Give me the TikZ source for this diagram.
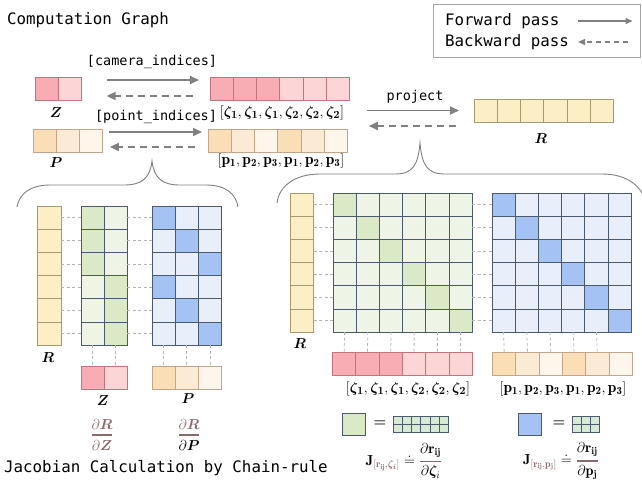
\documentclass[tikz,border=0pt]{standalone}
\usepackage{amsmath,amssymb,bm}
\usepackage{fontspec}
\setmonofont{DejaVu Sans Mono}
\usetikzlibrary{arrows.meta}

\definecolor{zdark}{HTML}{F8ADB5}
\definecolor{zlight}{HTML}{FCD5D6}
\definecolor{zedge}{HTML}{C4737C}
\definecolor{pone}{HTML}{F9DEB6}
\definecolor{ptwo}{HTML}{FCEBD4}
\definecolor{pthree}{HTML}{FEF6EA}
\definecolor{pedge}{HTML}{C3A68A}
\definecolor{rfill}{HTML}{FCEFC6}
\definecolor{redge}{HTML}{A8996E}
\definecolor{gdark}{HTML}{DAEAC6}
\definecolor{glight}{HTML}{EFF5E6}
\definecolor{bdark}{HTML}{A4C2F4}
\definecolor{blight}{HTML}{E8EEFA}
\definecolor{medge}{HTML}{4A5A6E}
\definecolor{minigrid}{HTML}{D7E8D3}
\definecolor{arrowgray}{HTML}{808080}
\definecolor{guide}{HTML}{B5B5B5}
\definecolor{legendgray}{HTML}{A6A6A6}
\definecolor{mauve}{HTML}{8A6B6B}

\newcommand{\pv}[1]{\mathbf{p}_{\mathbf{#1}}}
\newcommand{\zv}[1]{\bm{\zeta_{#1}}}

\tikzset{
  cell/.style={draw, line width=0.9pt, minimum width=23.3pt, minimum height=23.2pt,
    inner sep=0pt, outer sep=0pt},
  vcell/.style={cell, minimum height=23pt},
  zcell/.style={vcell, draw=zedge},
  pcell/.style={vcell, draw=pedge},
  rcell/.style={cell, draw=redge, fill=rfill},
  mcell/.style={cell, draw=medge},
  minicell/.style={draw=medge, fill=minigrid, line width=0.6pt, minimum width=9.2pt,
    minimum height=8pt, inner sep=0pt, outer sep=0pt},
  fwd/.style={draw=arrowgray, line width=1.8pt, -{Triangle[length=9pt,width=8pt]}},
  bwd/.style={fwd, dash pattern=on 7pt off 5pt},
  legfwd/.style={draw=arrowgray, line width=1.2pt, -{Triangle[length=7pt,width=6pt]}},
  legbwd/.style={legfwd, dash pattern=on 5pt off 4pt},
  guideline/.style={draw=guide, line width=0.8pt, dash pattern=on 3pt off 2.5pt},
  bracket/.style={draw=arrowgray, line width=0.9pt},
  bigmono/.style={font=\fontsize{15.8}{19}\ttfamily, inner sep=0pt},
  monolabel/.style={font=\fontsize{13.5}{16}\ttfamily, inner sep=0pt},
  mathlabel/.style={font=\fontsize{13.5}{16}\selectfont, inner sep=0pt},
  listlabel/.style={font=\fontsize{15.5}{18}\selectfont, inner sep=0pt},
  jaclabel/.style={font=\fontsize{14.5}{17}\selectfont, inner sep=0pt},
}

\begin{document}
\begin{tikzpicture}[x=1pt, y=-1pt]
\useasboundingbox (0,0) rectangle (642,485);

% titles
\node[bigmono, anchor=west] (title) at (7,20) {Computation Graph};
\node[bigmono, anchor=west] (chain) at (4,468) {Jacobian Calculation by Chain-rule};

% legend
\node[draw=legendgray, line width=0.8pt, minimum width=207pt, minimum height=53pt,
  inner sep=0pt] (legend) at (537,30.5) {};
\node[bigmono, anchor=west] (fwdtxt) at (445,21) {Forward pass};
\node[bigmono, anchor=west] (bwdtxt) at (445,42) {Backward pass};
\draw[legfwd] ([xshift=18pt]fwdtxt.east) -- ++(55,0);
\draw[legbwd] ([xshift=59pt]bwdtxt.east) -- ++(-50,0);

% camera / point parameters and their gathered copies
\foreach \i/\fc in {1/zdark,2/zlight}
  \node[zcell, fill=\fc] (z\i) at ({35+23.3*(\i-0.5)},89) {};
\foreach \i/\fc in {1/zdark,2/zdark,3/zdark,4/zlight,5/zlight,6/zlight}
  \node[zcell, fill=\fc] (zx\i) at ({210+23.3*(\i-0.5)},89) {};
\foreach \i/\fc in {1/pone,2/ptwo,3/pthree}
  \node[pcell, fill=\fc] (p\i) at ({33+23.3*(\i-0.5)},141) {};
\foreach \i/\fc in {1/pone,2/ptwo,3/pthree,4/pone,5/ptwo,6/pthree}
  \node[pcell, fill=\fc] (px\i) at ({208+23.3*(\i-0.5)},141) {};
\foreach \i in {1,...,6}
  \node[rcell, minimum height=23pt] (r\i) at ({474+23.3*(\i-0.5)},110.5) {};

\node[mathlabel] (zlab) at (56,113) {$\bm{Z}$};
\node[mathlabel] (plab) at (56,163) {$\bm{P}$};
\node[mathlabel] (rlab) at (541,139) {$\bm{R}$};
\node[listlabel] (zxlab) at (282,113) {$[\zv{1},\zv{1},\zv{1},\zv{2},\zv{2},\zv{2}]$};
\node[listlabel] (pxlab) at (281,161) {$[\pv{1},\pv{2},\pv{3},\pv{1},\pv{2},\pv{3}]$};

% gather arrows
\node[monolabel] (camidx) at (152,62) {[camera\_indices]};
\draw[fwd] ([shift={(25pt,9pt)}]z2.east) -- ([shift={(-11pt,9pt)}]zx1.west);
\draw[bwd] ([shift={(-17pt,-7pt)}]zx1.west) -- ([shift={(25pt,-7pt)}]z2.east);
\node[monolabel] (ptidx) at (156,117) {[point\_indices]};
\draw[fwd] ([shift={(6pt,9pt)}]p3.east) -- ([shift={(-6pt,9pt)}]px1.west);
\draw[bwd] ([shift={(-13pt,-6pt)}]px1.west) -- ([shift={(7pt,-6pt)}]p3.east);

% projection
\coordinate (proj) at (zx6.east |- r1.west);
\node[monolabel] (projlab) at (415,97) {project};
\draw[fwd] ([xshift=17pt]proj) -- ([xshift=-15pt]r1.west);
\draw[bwd] ([shift={(-18pt,-15.5pt)}]r1.west) -- ([shift={(19pt,-15.5pt)}]proj);

% braces
\draw[bracket] (17,207) .. controls (19,194) and (30,185) .. (50,185) -- (124,185)
  .. controls (142,185) and (150,178) .. (152,161) .. controls (154,178) and (162,185) .. (180,185)
  -- (206,185) .. controls (226,185) and (236,194) .. (238,207);
\draw[bracket] (277,203) .. controls (279,186) and (295,174) .. (320,174) -- (395,174)
  .. controls (413,174) and (418,165) .. (420,143) .. controls (422,165) and (427,174) .. (445,174)
  -- (602,174) .. controls (627,174) and (642,186) .. (646,203);

% left Jacobian: R, dR/dZ, dR/dP
\foreach \r in {1,...,6}{
  \node[rcell] (lr\r) at (49.5,{206+23.2*(\r-0.5)}) {};
  \pgfmathtruncatemacro{\dc}{(\r+2)/3}
  \foreach \c in {1,2}{
    \ifnum\c=\dc \def\fc{gdark}\else\def\fc{glight}\fi
    \node[mcell, fill=\fc] (lg\r\c) at ({81+23.2*(\c-0.5)},{206+23.2*(\r-0.5)}) {};
  }
  \pgfmathtruncatemacro{\bc}{mod(\r-1,3)+1}
  \foreach \c in {1,2,3}{
    \ifnum\c=\bc \def\fc{bdark}\else\def\fc{blight}\fi
    \node[mcell, fill=\fc] (lb\r\c) at ({152+23.2*(\c-0.5)},{206+23.2*(\r-0.5)}) {};
  }
  \draw[guideline] (lr\r.east) -- (lg\r1.west);
  \draw[guideline] (lg\r2.east) -- (lb\r1.west);
}
\foreach \c/\fc in {1/zdark,2/zlight}{
  \node[zcell, fill=\fc] (lz\c) at ({81+23.2*(\c-0.5)},377.5) {};
  \draw[guideline] (lg6\c.south) -- (lz\c.north);
}
\foreach \c/\fc in {1/pone,2/ptwo,3/pthree}{
  \node[pcell, fill=\fc] (lp\c) at ({152+23.2*(\c-0.5)},377.5) {};
  \draw[guideline] (lb6\c.south) -- (lp\c.north);
}
\node[mathlabel] (lrlab) at (48,358) {$\bm{R}$};
\node[mathlabel] (lzlab) at (103,401) {$\bm{Z}$};
\node[mathlabel] (lplab) at (188,399) {$\bm{P}$};
\node[mathlabel] (dzlab) at (102,435)
  {${\color{mauve}\genfrac{}{}{1.6pt}{0}{\partial\bm{R}}{\partial\bm{Z}}}$};
\node[mathlabel] (dplab) at (189,435)
  {${\color{mauve}\genfrac{}{}{1.6pt}{0}{\partial\bm{R}}{\color{black}\partial\bm{P}}}$};

% right Jacobian: R, dR/dzeta, dR/dp
\foreach \r in {1,...,6}{
  \node[rcell] (rr\r) at (302,{193+23.2*(\r-0.5)}) {};
  \foreach \c in {1,...,6}{
    \ifnum\c=\r \def\fc{gdark}\def\fb{bdark}\else\def\fc{glight}\def\fb{blight}\fi
    \node[mcell, fill=\fc] (rg\r\c) at ({333+23.2*(\c-0.5)},{193+23.2*(\r-0.5)}) {};
    \node[mcell, fill=\fb] (rb\r\c) at ({492+23.2*(\c-0.5)},{193+23.2*(\r-0.5)}) {};
  }
  \draw[guideline] (rr\r.east) -- (rg\r1.west);
  \draw[guideline] (rg\r6.east) -- (rb\r1.west);
}
\foreach \c/\fc in {1/zdark,2/zdark,3/zdark,4/zlight,5/zlight,6/zlight}{
  \node[zcell, fill=\fc] (rz\c) at ({332.5+23.3*(\c-0.5)},363.5) {};
  \draw[guideline] (rg6\c.south) -- (rz\c.north);
}
\foreach \c/\fc in {1/pone,2/ptwo,3/pthree,4/pone,5/ptwo,6/pthree}
  \node[pcell, fill=\fc] (rp\c) at ({492.5+23.3*(\c-0.5)},363.5) {};
\foreach \c in {1,...,5}
  \draw[guideline] (rb6\c.south) -- (rp\c.north);
\node[mathlabel] (rrlab) at (300,344) {$\bm{R}$};
\node[listlabel] (rzlab) at (408,389) {$[\zv{1},\zv{1},\zv{1},\zv{2},\zv{2},\zv{2}]$};
\node[listlabel] (rplab) at (563,389) {$[\pv{1},\pv{2},\pv{3},\pv{1},\pv{2},\pv{3}]$};

% block keys
\node[mcell, fill=gdark, minimum width=23pt, minimum height=22pt] (gkey) at (353.5,424) {};
\node[listlabel] (geq) at (380,424) {$\bm{=}$};
\foreach \r in {1,2}
  \foreach \c in {1,...,6}
    \node[minicell] (gm\r\c) at ({393+9.2*(\c-0.5)},{416+8*(\r-0.5)}) {};
\node[mcell, fill=bdark, minimum width=23pt, minimum height=22pt] (bkey) at (529.5,424) {};
\node[listlabel] (beq) at (559,424) {$\bm{=}$};
\foreach \r in {1,2}
  \foreach \c in {1,2,3}
    \node[minicell] (bm\r\c) at ({572+9.2*(\c-0.5)},{416+8*(\r-0.5)}) {};

\node[jaclabel] (jzeta) at (404,461)
  {$\mathbf{J}_{\color{mauve}[\mathbf{r}_{\mathbf{ij}},\zv{i}]}\doteq
    {\color{mauve}\genfrac{}{}{1.2pt}{0}{\color{black}\partial\mathbf{r}_{\mathbf{ij}}}{\color{black}\partial\bm{\zeta}_i}}$};
\node[jaclabel] (jp) at (561,461)
  {$\mathbf{J}_{\color{mauve}[\mathbf{r}_{\mathbf{ij}},\mathbf{p}_{\mathbf{j}}]}\doteq
    {\color{mauve}\genfrac{}{}{1.2pt}{0}{\color{black}\partial\mathbf{r}_{\mathbf{ij}}}{\color{black}\partial\mathbf{p}_{\mathbf{j}}}}$};
\end{tikzpicture}
\end{document}
